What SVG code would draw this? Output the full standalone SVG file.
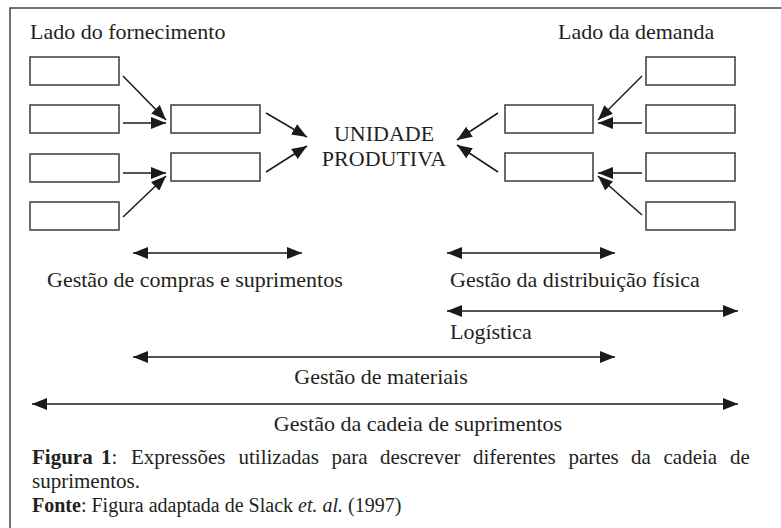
<svg xmlns="http://www.w3.org/2000/svg" width="781" height="528" viewBox="0 0 781 528">
<style>
.box{fill:#fff;stroke:#3a3a3a;stroke-width:1.5}
.ln{stroke:#1a1a1a;stroke-width:1.5;fill:none}
.t{font-family:"Liberation Serif","Times New Roman",serif;font-size:22px;fill:#231f20}
.c{font-family:"Liberation Serif","Times New Roman",serif;font-size:21px;fill:#231f20}
.c20{font-size:20px}
.frame{stroke:#444;stroke-width:1.5;fill:none}
</style>
<defs>
<marker id="ah" viewBox="0 0 15 12" refX="15" refY="6" markerWidth="15" markerHeight="12" markerUnits="userSpaceOnUse" orient="auto-start-reverse">
<path d="M0,0 L15,6 L0,12 z" fill="#1a1a1a"/>
</marker>
</defs>
<rect width="781" height="528" fill="#fff"/>
<path class="frame" d="M10,528 V8 H781"/>

<g id="labels-top">
<text class="t" x="30" y="39">Lado do fornecimento</text>
<text class="t" x="558" y="39">Lado da demanda</text>
</g>
<g id="unidade">
<text class="t" x="384" y="141" text-anchor="middle">UNIDADE</text>
<text class="t" x="384" y="166" text-anchor="middle">PRODUTIVA</text>
</g>

<g id="supply-boxes">
<rect id="s1" class="box" x="30" y="57" width="89" height="28"/>
<rect id="s2" class="box" x="30" y="105" width="89" height="28"/>
<rect id="s3" class="box" x="30" y="154" width="89" height="28"/>
<rect id="s4" class="box" x="30" y="202" width="89" height="28"/>
<rect id="s5" class="box" x="171" y="105" width="89" height="28"/>
<rect id="s6" class="box" x="171" y="153" width="89" height="28"/>
</g>
<g id="demand-boxes">
<rect id="d1" class="box" x="646" y="57" width="89" height="28"/>
<rect id="d2" class="box" x="646" y="105" width="89" height="28"/>
<rect id="d3" class="box" x="646" y="153" width="89" height="28"/>
<rect id="d4" class="box" x="646" y="202" width="89" height="28"/>
<rect id="d5" class="box" x="505" y="105" width="88" height="28"/>
<rect id="d6" class="box" x="505" y="153" width="88" height="28"/>
</g>

<g id="connectors" class="ln" marker-end="url(#ah)">
<line x1="123" y1="76" x2="166" y2="120"/>
<line x1="123" y1="123" x2="166" y2="123"/>
<line x1="123" y1="173" x2="166" y2="173"/>
<line x1="123" y1="217" x2="166" y2="176"/>
<line x1="266" y1="113" x2="307" y2="137"/>
<line x1="266" y1="172" x2="307" y2="146"/>
<line x1="642" y1="76" x2="598" y2="120"/>
<line x1="642" y1="123" x2="598" y2="123"/>
<line x1="642" y1="173" x2="598" y2="173"/>
<line x1="642" y1="215" x2="598" y2="176"/>
<line x1="498" y1="113" x2="457" y2="140"/>
<line x1="498" y1="172" x2="457" y2="145"/>
</g>

<g id="ranges" class="ln" marker-start="url(#ah)" marker-end="url(#ah)">
<line x1="133" y1="253" x2="302" y2="253"/>
<line x1="447" y1="253" x2="615" y2="253"/>
<line x1="447" y1="311" x2="738" y2="311"/>
<line x1="133" y1="357" x2="615" y2="357"/>
<line x1="32" y1="404" x2="738" y2="404"/>
</g>

<g id="range-labels">
<text class="t" x="47" y="287">Gestão de compras e suprimentos</text>
<text class="t" x="450" y="287">Gestão da distribuição física</text>
<text class="t" x="450" y="339">Logística</text>
<text class="t" x="381" y="384" text-anchor="middle">Gestão de materiais</text>
<text class="t" x="418" y="431" text-anchor="middle">Gestão da cadeia de suprimentos</text>
</g>

<g id="caption">
<text class="c" y="464"><tspan x="32" font-weight="bold">Figura</tspan><tspan x="101" font-weight="bold">1</tspan><tspan>:</tspan><tspan x="131">Expressões</tspan><tspan x="238.5">utilizadas</tspan><tspan x="331.5">para</tspan><tspan x="380">descrever</tspan><tspan x="473">diferentes</tspan><tspan x="568.5">partes</tspan><tspan x="631">da</tspan><tspan x="663.5">cadeia</tspan><tspan x="730">de</tspan></text>
<text class="c" x="32" y="488">suprimentos.</text>
<text class="c c20" x="32" y="512"><tspan font-weight="bold">Fonte</tspan>: Figura adaptada de Slack <tspan font-style="italic">et. al.</tspan> (1997)</text>
</g>
</svg>
